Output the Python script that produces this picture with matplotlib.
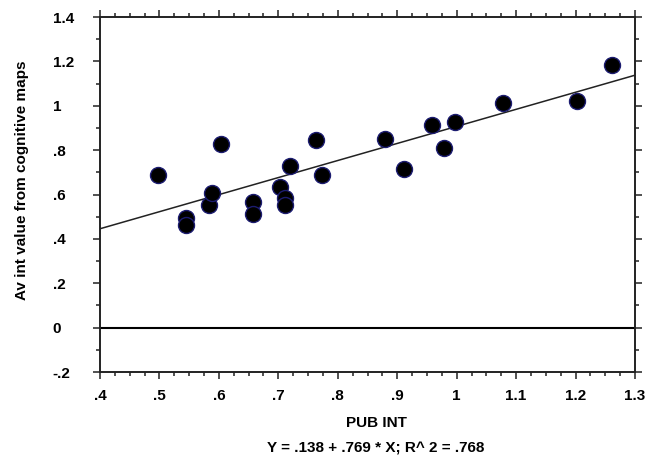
import matplotlib
matplotlib.use("Agg")
import matplotlib.pyplot as plt
from matplotlib.ticker import MultipleLocator, FuncFormatter

# data
pub_int = [0.498, 0.544, 0.544, 0.583, 0.589, 0.604, 0.658, 0.658, 0.702, 0.712, 0.712,
           0.720, 0.764, 0.774, 0.879, 0.911, 0.959, 0.979, 0.998, 1.078, 1.203, 1.262]
av_int = [0.690, 0.495, 0.462, 0.553, 0.609, 0.829, 0.567, 0.512, 0.634, 0.583, 0.553,
          0.727, 0.845, 0.686, 0.852, 0.717, 0.912, 0.810, 0.929, 1.012, 1.023, 1.185]
intercept = 0.138
slope = 0.769
r2 = 0.768
xlim = [0.4, 1.3]
ylim = [-0.2, 1.4]

plt.rcParams['font.family'] = 'Liberation Sans'
plt.rcParams['font.weight'] = 'bold'

fig = plt.figure(figsize=(6.61, 4.61), dpi=100)
ax = fig.add_axes([100/661, 1-372/461, 535/661, 355/461])

ax.axhline(0, color='black', lw=1.5, zorder=1)
ax.plot(xlim, [intercept + slope*x for x in xlim], color='#222222', lw=1.1, zorder=2)
ax.plot(pub_int, av_int, 'o', ms=11.5, mfc='black', mec='#1c1c70', mew=1.0, zorder=3)

ax.set_xlim(xlim)
ax.set_ylim(ylim)

def fmt(v, pos):
    s = ('%.1f' % v).rstrip('0').rstrip('.')
    if s == '-0' or s == '':
        s = '0'
    s = s.replace('0.', '.')
    return s

ax.xaxis.set_major_locator(MultipleLocator(0.1))
ax.xaxis.set_minor_locator(MultipleLocator(0.025))
ax.yaxis.set_major_locator(MultipleLocator(0.2))
ax.yaxis.set_minor_locator(MultipleLocator(0.1))
ax.xaxis.set_major_formatter(FuncFormatter(fmt))
ax.yaxis.set_major_formatter(FuncFormatter(fmt))

ax.tick_params(which='both', direction='out', top=True, right=True, width=1.1, color='#222222')
ax.tick_params(which='major', length=5)
ax.tick_params(which='minor', length=3)
ax.tick_params(axis='x', which='major', labelsize=11, pad=7)
ax.tick_params(axis='y', which='major', labelsize=11, pad=29)
for lab in ax.get_yticklabels():
    lab.set_horizontalalignment('left')
    lab.set_fontweight('bold')
for lab in ax.get_xticklabels():
    lab.set_fontweight('bold')

for sp in ax.spines.values():
    sp.set_linewidth(1.4)
    sp.set_color('#222222')

fig.text(22/661, 1-180/461, 'Av int value from cognitive maps', rotation=90,
         ha='center', va='center', fontsize=11, family='Liberation Sans', weight='bold')
fig.text(376/661, 1-423/461, 'PUB INT', ha='center', va='center', fontsize=11,
         family='Liberation Sans', weight='bold')
fig.text(376/661, 1-448/461, 'Y = .138 + .769 * X; R^ 2 = .768', ha='center', va='center',
         fontsize=11, family='Liberation Sans', weight='bold')

fig.savefig('out.png', dpi=100)
